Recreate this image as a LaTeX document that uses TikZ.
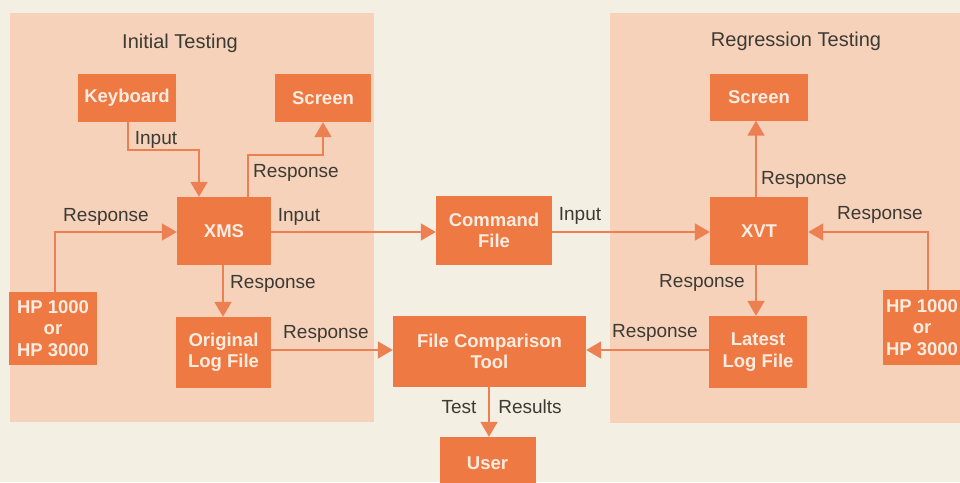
\documentclass[tikz,border=0pt]{standalone}
\usepackage{fontspec}
\setmainfont{Liberation Sans}
\usetikzlibrary{arrows.meta}

\definecolor{pagebg}{RGB}{243,239,227}
\definecolor{panelfill}{RGB}{246,210,186}
\definecolor{boxfill}{RGB}{238,121,66}
\definecolor{wire}{RGB}{236,128,82}
\definecolor{boxtext}{RGB}{253,236,225}
\definecolor{labeltext}{RGB}{60,58,52}

\begin{document}
\begin{tikzpicture}[x=1pt,y=-1pt,
  unit/.style={fill=boxfill, text=boxtext, inner sep=0pt, align=center,
    font=\fontsize{18.5}{21.5}\selectfont\bfseries},
  tag/.style={text=labeltext, inner sep=0pt, font=\fontsize{19}{21}\selectfont},
  heading/.style={text=labeltext, inner sep=0pt, font=\fontsize{20}{22}\selectfont},
  arr/.style={draw=wire, line width=1.8pt,
    -{Triangle[length=15pt,width=17pt]}, color=wire}
]
\useasboundingbox (0,0) rectangle (960,482);
\clip (0,0) rectangle (960,482);
\fill[pagebg] (0,0) rectangle (960,482);

% two testing areas
\fill[panelfill] (10,13) rectangle (374,422);
\fill[panelfill] (610,13) rectangle (975,423);
\node[heading] (tInit) at (180,43) {Initial Testing};
\node[heading] (tReg) at (796,41) {Regression Testing};

% boxes of the initial testing area
\node[unit, minimum width=98pt, minimum height=48pt] (kbd) at (127,98) {Keyboard};
\node[unit, minimum width=96pt, minimum height=48pt] (scrL) at (323,98) {Screen};
\node[unit, minimum width=94pt, minimum height=68pt] (xms) at (224,231) {XMS};
\node[unit, minimum width=88pt, minimum height=73pt] (hpL) at (53,328.5) {HP 1000\\or\\HP 3000};
\node[unit, minimum width=95pt, minimum height=71pt] (olf) at (223.5,352.5) {Original\\Log File};

% shared boxes in the middle
\node[unit, minimum width=116pt, minimum height=69pt] (cmd) at (494,230.5) {Command\\File};
\node[unit, minimum width=193pt, minimum height=71pt] (fct) at (489.5,351.5) {File Comparison\\Tool};
\node[unit, minimum width=96pt, minimum height=52pt] (usr) at (487.5,463) {User};

% boxes of the regression testing area
\node[unit, minimum width=98pt, minimum height=47pt] (scrR) at (759,97) {Screen};
\node[unit, minimum width=98pt, minimum height=68pt] (xvt) at (759,231) {XVT};
\node[unit, minimum width=98pt, minimum height=72pt] (llf) at (758,352) {Latest\\Log File};
\node[unit, minimum width=78pt, minimum height=75pt] (hpR) at (922,327.5) {HP 1000\\or\\HP 3000};

% bend points and wire rows
\coordinate (kb1) at (128,150);
\coordinate (kb2) at (199,150);
\coordinate (sc1) at (248,155);
\coordinate (sc2) at (323,155);
\coordinate (hp1) at (55,232);
\coordinate (hp2) at (928,232);
\coordinate (rowIn) at (0,232);
\coordinate (rowOut) at (0,350);
\coordinate (colL) at (223,0);
\coordinate (colR) at (756,0);
\coordinate (colM) at (489,0);

% connectors
\draw[arr] (kbd.south -| kb1) -- (kb1) -- (kb2) -- (xms.north -| kb2);
\draw[arr] (xms.north -| sc1) -- (sc1) -- (sc2) -- (scrL.south -| sc2);
\draw[arr] (hpL.north -| hp1) -- (hp1) -- (xms.west |- hp1);
\draw[arr] (xms.east |- rowIn) -- (cmd.west |- rowIn);
\draw[arr] (xms.south -| colL) -- (olf.north -| colL);
\draw[arr] (olf.east |- rowOut) -- (fct.west |- rowOut);
\draw[arr] (cmd.east |- rowIn) -- (xvt.west |- rowIn);
\draw[arr] (xvt.north -| colR) -- (scrR.south -| colR);
\draw[arr] (hpR.north -| hp2) -- (hp2) -- (xvt.east |- hp2);
\draw[arr] (xvt.south -| colR) -- (llf.north -| colR);
\draw[arr] (llf.west |- rowOut) -- (fct.east |- rowOut);
\draw[arr] (fct.south -| colM) -- (usr.north -| colM);

% connector labels
\node[tag] (lKbd) at (156,140) {Input};
\node[tag] (lScrL) at (296,173) {Response};
\node[tag] (lHpL) at (106,217) {Response};
\node[tag] (lXmsOut) at (299,217) {Input};
\node[tag] (lXmsDown) at (273,284) {Response};
\node[tag] (lOlf) at (326,334) {Response};
\node[tag] (lCmd) at (580,216) {Input};
\node[tag] (lScrR) at (804,180) {Response};
\node[tag] (lHpR) at (880,215) {Response};
\node[tag] (lXvtDown) at (702,283) {Response};
\node[tag] (lLlf) at (655,333) {Response};
\node[tag] (lTest) at (459,407) {Test};
\node[tag] (lRes) at (530,407) {Results};
\end{tikzpicture}
\end{document}
